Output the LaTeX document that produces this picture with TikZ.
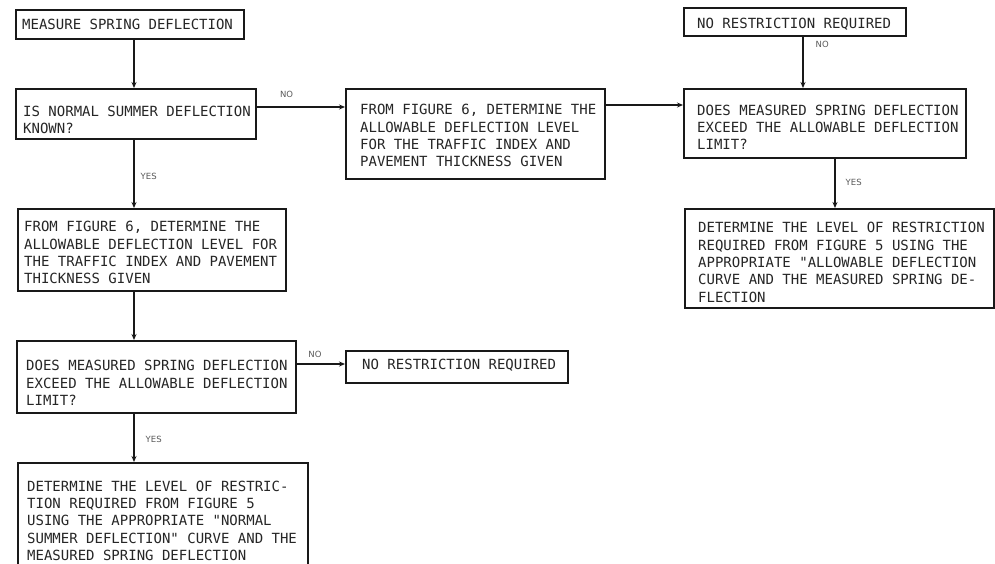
\documentclass[tikz,border=0pt]{standalone}
\usepackage{fontspec}
\setmonofont{DejaVu Sans Mono}
\newfontfamily\lblfont{DejaVu Sans}
\usetikzlibrary{arrows.meta,calc}
\begin{document}
\begin{tikzpicture}[x=1pt,y=-1pt,
  frame/.style={draw=black!90, line width=1.6pt, anchor=north west, inner sep=0pt},
  txt/.style={anchor=west, align=left, inner sep=0pt, text=black!85,
    font=\ttfamily\fontsize{14}{17.3}\selectfont},
  yn/.style={inner sep=0pt, text=black!65, font=\lblfont\fontsize{8.5}{9}\selectfont},
  conn/.style={draw=black!90, line width=1.4pt, -{Stealth[length=6pt,width=5pt]}}]
\useasboundingbox (0,0) rectangle (995,563);
\clip (0,0) rectangle (995,563);
\fill[white] (0,0) rectangle (995,563);

% boxes
\node[frame, minimum width=228pt, minimum height=29pt] (b1) at (15,9) {};
\node[frame, minimum width=240pt, minimum height=50pt] (b2) at (15,88) {};
\node[frame, minimum width=259pt, minimum height=90pt] (b3) at (345,88) {};
\node[frame, minimum width=222pt, minimum height=28pt] (b4) at (683,7) {};
\node[frame, minimum width=282pt, minimum height=69pt] (b5) at (683,88) {};
\node[frame, minimum width=309pt, minimum height=99pt] (b6) at (684,208) {};
\node[frame, minimum width=268pt, minimum height=82pt] (b7) at (17,208) {};
\node[frame, minimum width=279pt, minimum height=72pt] (b8) at (16,340) {};
\node[frame, minimum width=222pt, minimum height=32pt] (b9) at (345,350) {};
\node[frame, minimum width=290pt, minimum height=113pt] (b10) at (17,462) {};

% texts
\node[txt] (t1) at ($(b1.west)+(7,0)$) {MEASURE SPRING DEFLECTION};
\node[txt] (t2) at ($(b2.west)+(8,6)$) {IS NORMAL SUMMER DEFLECTION\\KNOWN?};
\node[txt] (t3) at ($(b3.west)+(15,2)$) {FROM FIGURE 6, DETERMINE THE\\ALLOWABLE DEFLECTION LEVEL\\FOR THE TRAFFIC INDEX AND\\PAVEMENT THICKNESS GIVEN};
\node[txt] (t4) at ($(b4.west)+(14,2)$) {NO RESTRICTION REQUIRED};
\node[txt] (t5) at ($(b5.west)+(14,4)$) {DOES MEASURED SPRING DEFLECTION\\EXCEED THE ALLOWABLE DEFLECTION\\LIMIT?};
\node[txt] (t6) at ($(b6.west)+(14,4)$) {DETERMINE THE LEVEL OF RESTRICTION\\REQUIRED FROM FIGURE 5 USING THE\\APPROPRIATE "ALLOWABLE DEFLECTION\\CURVE AND THE MEASURED SPRING DE-\\FLECTION};
\node[txt] (t7) at ($(b7.west)+(7,3)$) {FROM FIGURE 6, DETERMINE THE\\ALLOWABLE DEFLECTION LEVEL FOR\\THE TRAFFIC INDEX AND PAVEMENT\\THICKNESS GIVEN};
\node[txt] (t8) at ($(b8.west)+(10,6)$) {DOES MEASURED SPRING DEFLECTION\\EXCEED THE ALLOWABLE DEFLECTION\\LIMIT?};
\node[txt] (t9) at ($(b9.west)+(17,-2)$) {NO RESTRICTION REQUIRED};
\node[txt] (t10) at ($(b10.west)+(10,1.5)$) {DETERMINE THE LEVEL OF RESTRIC-\\TION REQUIRED FROM FIGURE 5\\USING THE APPROPRIATE "NORMAL\\SUMMER DEFLECTION" CURVE AND THE\\MEASURED SPRING DEFLECTION};

% column coordinates
\coordinate (cA) at (134,0);
\coordinate (cB) at (803,0);
\coordinate (cC) at (835,0);

% connectors
\draw[conn] (b1.south -| cA) -- (b2.north -| cA);
\draw[conn] (b2.south -| cA) -- node[yn, anchor=west, pos=0.54, xshift=6pt] {YES} (b7.north -| cA);
\draw[conn] (b7.south -| cA) -- (b8.north -| cA);
\draw[conn] (b8.south -| cA) -- node[yn, anchor=west, pos=0.54, xshift=11pt] {YES} (b10.north -| cA);
\draw[conn] ($(b2.north east)+(0,19)$) coordinate (s1) -- node[yn, above=9pt, pos=0.34] {NO} (s1 -| b3.west);
\draw[conn] ($(b3.north east)+(0,17)$) coordinate (s2) -- (s2 -| b5.west);
\draw[conn] (b4.south -| cB) -- node[yn, anchor=west, pos=0.15, xshift=12pt] {NO} (b5.north -| cB);
\draw[conn] (b5.south -| cC) -- node[yn, anchor=west, pos=0.49, xshift=10pt] {YES} (b6.north -| cC);
\draw[conn] ($(b8.north east)+(0,24)$) coordinate (s3) -- node[yn, above=6pt, pos=0.38] {NO} (s3 -| b9.west);
\end{tikzpicture}
\end{document}
